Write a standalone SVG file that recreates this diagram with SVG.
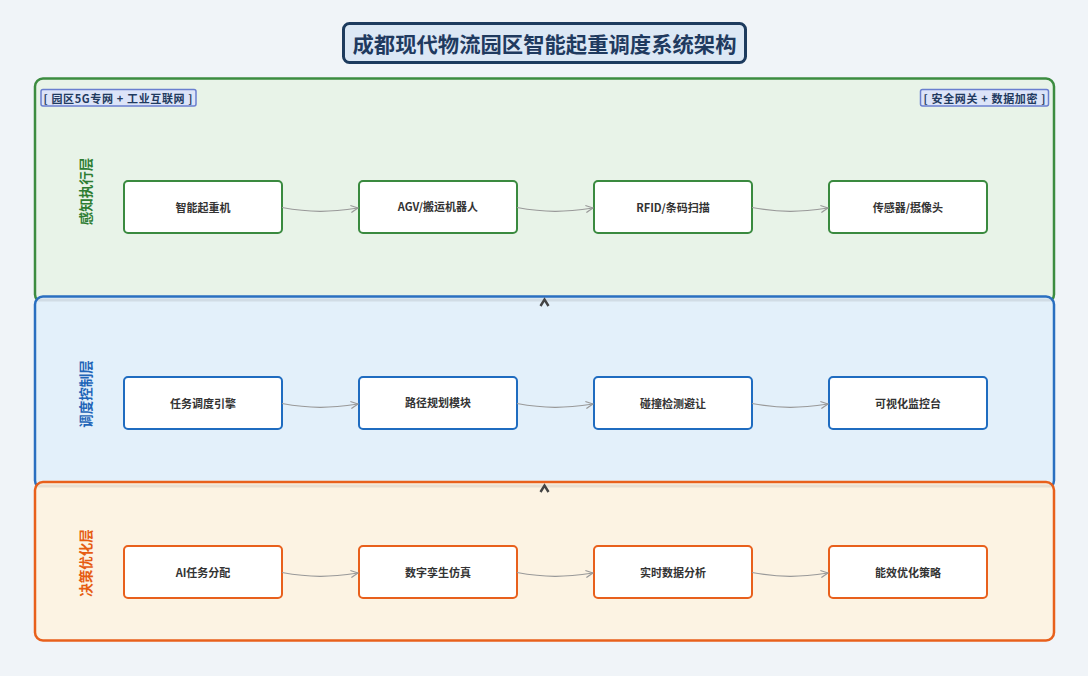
<svg xmlns="http://www.w3.org/2000/svg" width="1088" height="676" viewBox="0 0 1088 676">
<defs>
<marker id="arr" viewBox="0 0 10 10" refX="9" refY="5" markerWidth="9" markerHeight="9" markerUnits="userSpaceOnUse" orient="auto">
<path d="M1,1 L9,5 L1,9" fill="none" stroke="#999" stroke-width="1.3"/>
</marker>
<style>
text{font-family:"Noto Sans CJK SC","Liberation Sans",sans-serif;font-weight:bold;}
.layer{stroke-width:2.5;}
.node{fill:#fff;stroke-width:2;}
.ntext{font-size:11px;fill:#333;text-anchor:middle;dominant-baseline:central;}
.ltext{font-size:13.5px;text-anchor:middle;dominant-baseline:central;}
.tag{fill:#dce4f8;stroke:#6a7fcf;stroke-width:1.5;}
.tagt{font-size:11px;fill:#1f3a5f;dominant-baseline:central;}
.conn{fill:none;stroke:#999;stroke-width:1.2;marker-end:url(#arr);}
.chev{fill:none;stroke:#444;stroke-width:2.4;}
.sep{stroke-width:3;opacity:0.12;}
</style>
</defs>
<rect width="1088" height="676" fill="#f0f4f8"/>
<g id="title">
<rect x="343.5" y="23.5" width="402" height="39" rx="6" fill="#dce8f5" stroke="#1d3b5e" stroke-width="3"/>
<text x="544.5" y="43" font-size="21" fill="#1f3a5f" text-anchor="middle" dominant-baseline="central" textLength="384" lengthAdjust="spacingAndGlyphs">成都现代物流园区智能起重调度系统架构</text>
</g>
<g id="layer-perception">
<rect class="layer" x="35" y="78.5" width="1019" height="224" rx="8" fill="#e8f3e8" stroke="#3c8c40"/>
<text class="ltext" fill="#2e7d32" transform="translate(85 191.5) rotate(-90)">感知执行层</text>
</g>
<g id="layer-control">
<rect class="layer" x="35" y="296.5" width="1019" height="192" rx="8" fill="#e3f0fa" stroke="#2a6fc0"/>
<line class="sep" x1="37" y1="300" x2="1052" y2="300" stroke="#555"/>
<text class="ltext" fill="#1f65b8" transform="translate(85 394) rotate(-90)">调度控制层</text>
</g>
<g id="layer-decision">
<rect class="layer" x="35" y="482" width="1019" height="158.5" rx="8" fill="#fcf3e3" stroke="#e8601c"/>
<line class="sep" x1="37" y1="486" x2="1052" y2="486" stroke="#555"/>
<text class="ltext" fill="#e65c12" transform="translate(85 563) rotate(-90)">决策优化层</text>
</g>
<g id="tag-left">
<rect class="tag" x="41" y="89.5" width="155" height="16.5" rx="2"/>
<text class="tagt" x="43.5" y="98" textLength="149" lengthAdjust="spacing">[ 园区5G专网 + 工业互联网 ]</text>
</g>
<g id="tag-right">
<rect class="tag" x="920.5" y="89.5" width="128" height="16.5" rx="2"/>
<text class="tagt" x="923.5" y="98" textLength="122" lengthAdjust="spacing">[ 安全网关 + 数据加密 ]</text>
</g>
<g id="n-crane"><rect class="node" x="124" y="181" width="158" height="52" rx="4" stroke="#3a8a3f"/><text class="ntext" x="203" y="207">智能起重机</text></g>
<g id="n-agv"><rect class="node" x="359" y="181" width="158" height="52" rx="4" stroke="#3a8a3f"/><text class="ntext" x="438" y="206">AGV/搬运机器人</text></g>
<g id="n-rfid"><rect class="node" x="594" y="181" width="158" height="52" rx="4" stroke="#3a8a3f"/><text class="ntext" x="673" y="207">RFID/条码扫描</text></g>
<g id="n-sensor"><rect class="node" x="829" y="181" width="158" height="52" rx="4" stroke="#3a8a3f"/><text class="ntext" x="908" y="207">传感器/摄像头</text></g>
<g id="n-task"><rect class="node" x="124" y="377" width="158" height="52" rx="4" stroke="#1f6cc0"/><text class="ntext" x="203" y="403">任务调度引擎</text></g>
<g id="n-path"><rect class="node" x="359" y="377" width="158" height="52" rx="4" stroke="#1f6cc0"/><text class="ntext" x="438" y="402">路径规划模块</text></g>
<g id="n-collide"><rect class="node" x="594" y="377" width="158" height="52" rx="4" stroke="#1f6cc0"/><text class="ntext" x="673" y="403">碰撞检测避让</text></g>
<g id="n-monitor"><rect class="node" x="829" y="377" width="158" height="52" rx="4" stroke="#1f6cc0"/><text class="ntext" x="908" y="403">可视化监控台</text></g>
<g id="n-ai"><rect class="node" x="124" y="546" width="158" height="52" rx="4" stroke="#e8601c"/><text class="ntext" x="203" y="572">AI任务分配</text></g>
<g id="n-twin"><rect class="node" x="359" y="546" width="158" height="52" rx="4" stroke="#e8601c"/><text class="ntext" x="438" y="572">数字孪生仿真</text></g>
<g id="n-data"><rect class="node" x="594" y="546" width="158" height="52" rx="4" stroke="#e8601c"/><text class="ntext" x="673" y="572">实时数据分析</text></g>
<g id="n-energy"><rect class="node" x="829" y="546" width="158" height="52" rx="4" stroke="#e8601c"/><text class="ntext" x="908" y="572">能效优化策略</text></g>
<g id="connectors">
<path class="conn" d="M282,207.5 C312,213 330,212 358,208"/>
<path class="conn" d="M517,207.5 C547,213 565,212 593,208"/>
<path class="conn" d="M752,207.5 C782,213 800,212 828,208"/>
<path class="conn" d="M282,403.5 C312,409 330,408 358,404"/>
<path class="conn" d="M517,403.5 C547,409 565,408 593,404"/>
<path class="conn" d="M752,403.5 C782,409 800,408 828,404"/>
<path class="conn" d="M282,572.5 C312,578 330,577 358,573"/>
<path class="conn" d="M517,572.5 C547,578 565,577 593,573"/>
<path class="conn" d="M752,572.5 C782,578 800,577 828,573"/>
<path class="chev" d="M540.5,306 L544.5,299.5 L548.5,306"/>
<path class="chev" d="M540.5,492 L544.5,485.5 L548.5,492"/>
</g>
</svg>
